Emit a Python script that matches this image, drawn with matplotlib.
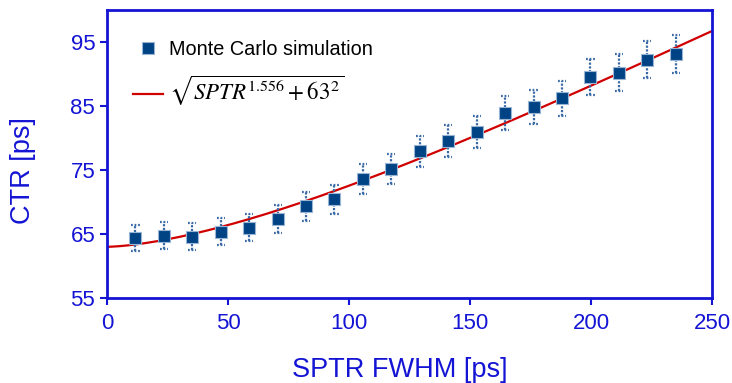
import numpy as np
import matplotlib.pyplot as plt

plt.rcParams['font.family'] = ['Liberation Sans', 'DejaVu Sans']
plt.rcParams['mathtext.fontset'] = 'stix'

# Monte Carlo points: SPTR FWHM [ps] vs CTR [ps]
sptr = [11.75, 23.5, 35.25, 47.0, 58.75, 70.5, 82.25, 94.0, 105.75, 117.5,
        129.25, 141.0, 152.75, 164.5, 176.25, 188.0, 199.75, 211.5, 223.25, 235.0]
ctr = [64.4, 64.7, 64.6, 65.35, 66.0, 67.4, 69.3, 70.4, 73.6, 75.2,
       77.9, 79.6, 80.9, 83.9, 84.8, 86.2, 89.5, 90.2, 92.2, 93.1]
ctr_err = [2.0, 2.1, 2.1, 2.1, 2.1, 2.2, 2.2, 2.25, 2.3, 2.35,
           2.45, 2.5, 2.5, 2.6, 2.65, 2.7, 2.8, 2.85, 2.9, 2.95]

# fit curve from the legend: sqrt(SPTR^1.556 + 63^2)
fit_exp = 1.556
fit_const = 63

blue = '#1414d4'
mk = '#004385'

fig = plt.figure(figsize=(7.32, 3.83), dpi=100)
ax = fig.add_axes([0.1462, 0.2219, 0.8265, 0.752])

xs = np.linspace(0, 250, 400)
ax.plot(xs, np.sqrt(xs**fit_exp + fit_const**2), color='#d00000', lw=1.6, zorder=2,
        label=r'$\sqrt{SPTR^{1.556}+63^2}$')

x = np.array(sptr)
y = np.array(ctr)
e = np.array(ctr_err)
ax.vlines(x, y - e, y + e, colors='#3a6aa6', linestyles=(0, (1, 0.7)), lw=1.6, zorder=3)
ax.hlines(np.concatenate([y - e, y + e]), np.concatenate([x - 1.7, x - 1.7]),
          np.concatenate([x + 1.7, x + 1.7]), colors='#3a6aa6',
          linestyles=(0, (0.8, 0.8)), lw=1.6, zorder=3)
ax.plot(x, y, 's', ms=8.5, color=mk, mec='#9ab4d4', mew=0.8, ls='none', zorder=4,
        label='Monte Carlo simulation')

ax.set_xlim(0, 250)
ax.set_ylim(55, 100)
ax.set_xticks([0, 50, 100, 150, 200, 250])
ax.set_yticks([55, 65, 75, 85, 95])
ax.tick_params(colors=blue, labelcolor=blue, labelsize=16, direction='out',
               length=5, width=1.5)
ax.tick_params(axis='x', pad=6)
for s in ax.spines.values():
    s.set_color(blue)
    s.set_linewidth(2)

ax.set_xlabel('SPTR FWHM [ps]', color=blue, fontsize=19.5)
ax.set_ylabel('CTR [ps]', color=blue, fontsize=19.5)
ax.xaxis.set_label_coords(0.484, -0.205)
ax.yaxis.set_label_coords(-0.118, 0.444)

h, l = ax.get_legend_handles_labels()
leg = ax.legend(h[::-1], l[::-1], loc='upper left', bbox_to_anchor=(0.043, 0.895),
                frameon=False, fontsize=14.3, handlelength=1.5, handletextpad=0.3,
                labelspacing=0.75, borderpad=0, borderaxespad=0)
leg.get_texts()[1].set_fontsize(16.5)

fig.savefig('out.png', dpi=100)
